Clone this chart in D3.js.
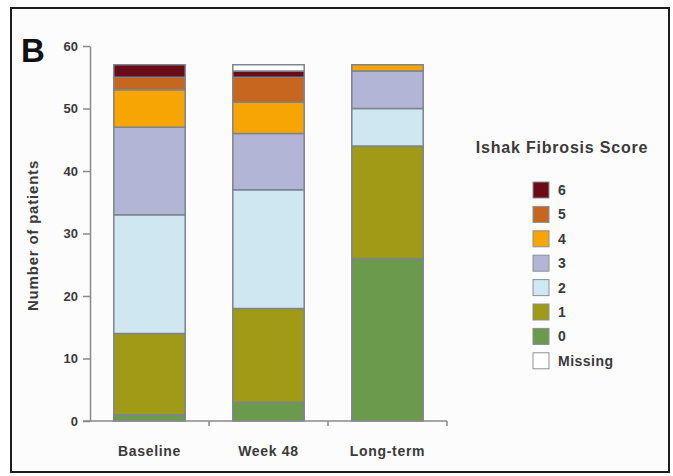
<!DOCTYPE html>
<html>
<head>
<meta charset="utf-8">
<script src="https://cdn.jsdelivr.net/npm/d3@7/dist/d3.min.js"></script>
<style>
  html, body { margin: 0; padding: 0; background: #ffffff; }
  svg { display: block; }
  text { font-family: "Liberation Sans", Arial, Helvetica, sans-serif; }
</style>
</head>
<body>
<svg id="chart" width="673" height="476"></svg>
<script>
// Time points on the x axis
const timepoints = ["Baseline", "Week 48", "Long-term"];

// Patient counts per Ishak fibrosis score, one value per time point
const score0  = [1, 3, 26];
const score1  = [13, 15, 18];
const score2  = [19, 19, 6];
const score3  = [14, 9, 6];
const score4  = [6, 5, 1];
const score5  = [2, 4, 0];
const score6  = [2, 1, 0];
const missing = [0, 1, 0];

// Stack order from bottom to top
const scoreKeys = ["0", "1", "2", "3", "4", "5", "6", "Missing"];
const scoreValues = [score0, score1, score2, score3, score4, score5, score6, missing];

// Legend order (top to bottom)
const legendKeys = ["6", "5", "4", "3", "2", "1", "0", "Missing"];

const yTicks = [0, 10, 20, 30, 40, 50, 60];

const colors = {
  "6": "#6b0b16",
  "5": "#c7671f",
  "4": "#f6a503",
  "3": "#b2b5d6",
  "2": "#cfe7f1",
  "1": "#a09a16",
  "0": "#6b9a4d",
  "Missing": "#ffffff"
};

const rows = timepoints.map((t, i) => {
  const r = { time: t };
  scoreKeys.forEach((k, j) => { r[k] = scoreValues[j][i]; });
  return r;
});

const svg = d3.select("#chart");

// Panel frame
svg.append("rect")
  .attr("x", 11).attr("y", 8)
  .attr("width", 658).attr("height", 464)
  .attr("fill", "#fdfcfc")
  .attr("stroke", "#1e1e1e")
  .attr("stroke-width", 2);

// Panel letter
svg.append("text")
  .attr("x", 21).attr("y", 62)
  .attr("font-size", 33)
  .attr("font-weight", "bold")
  .attr("fill", "#111")
  .text("B");

const plot = { left: 90, right: 447, top: 46, bottom: 421 };

const x = d3.scaleBand()
  .domain(timepoints)
  .range([plot.left, plot.right])
  .paddingInner(0.4)
  .paddingOuter(0.2);

const y = d3.scaleLinear()
  .domain([0, 60])
  .range([plot.bottom, plot.top]);

const stack = d3.stack().keys(scoreKeys);
const series = stack(rows);

// Stacked bars
svg.append("g")
  .selectAll("g")
  .data(series)
  .join("g")
    .attr("fill", d => colors[d.key])
  .selectAll("rect")
  .data(d => d.filter(p => p[1] - p[0] > 0))
  .join("rect")
    .attr("x", d => x(d.data.time))
    .attr("y", d => y(d[1]))
    .attr("width", x.bandwidth())
    .attr("height", d => y(d[0]) - y(d[1]))
    .attr("stroke", "#7c848e")
    .attr("stroke-width", 1.5);

// Y axis
const yAxis = svg.append("g")
  .attr("transform", `translate(${plot.left},0)`)
  .call(d3.axisLeft(y).tickValues(yTicks).tickSize(7).tickPadding(5).tickSizeOuter(0));
yAxis.select(".domain").attr("stroke", "#8a8a8a").attr("stroke-width", 1.5);
yAxis.selectAll(".tick line").attr("stroke", "#8a8a8a").attr("stroke-width", 1.5);
yAxis.selectAll(".tick text")
  .attr("font-size", 13)
  .attr("font-weight", "bold")
  .attr("fill", "#3a3a3a")
  .attr("font-family", "Liberation Sans, Arial, sans-serif");

// X axis with ticks on band boundaries
const xAxisG = svg.append("g").attr("transform", `translate(0,${plot.bottom})`);
xAxisG.append("line")
  .attr("x1", plot.left - 7).attr("x2", plot.right)
  .attr("stroke", "#8a8a8a").attr("stroke-width", 1.5);
const boundaries = [plot.left].concat(timepoints.map(t => x(t) + x.bandwidth() + x.step() * x.paddingInner() / 2));
boundaries[boundaries.length - 1] = plot.right;
xAxisG.selectAll("line.tk")
  .data(boundaries.slice(1))
  .join("line")
  .attr("class", "tk")
  .attr("x1", d => d).attr("x2", d => d)
  .attr("y1", 0).attr("y2", 5)
  .attr("stroke", "#8a8a8a").attr("stroke-width", 1.5);
xAxisG.selectAll("text")
  .data(timepoints)
  .join("text")
  .attr("x", d => x(d) + x.bandwidth() / 2)
  .attr("y", 35)
  .attr("text-anchor", "middle")
  .attr("font-size", 14)
  .attr("letter-spacing", 0.7)
  .attr("font-weight", "bold")
  .attr("fill", "#3a3a3a")
  .text(d => d);

// Y axis title
svg.append("text")
  .attr("transform", `translate(38,${(plot.top + plot.bottom) / 2 + 2}) rotate(-90)`)
  .attr("text-anchor", "middle")
  .attr("font-size", 15)
  .attr("letter-spacing", 0.8)
  .attr("font-weight", "bold")
  .attr("fill", "#3a3a3a")
  .text("Number of patients");

// Legend
const legend = svg.append("g");
legend.append("text")
  .attr("x", 562).attr("y", 153)
  .attr("text-anchor", "middle")
  .attr("font-size", 16)
  .attr("letter-spacing", 0.8)
  .attr("font-weight", "bold")
  .attr("fill", "#3a3a3a")
  .text("Ishak Fibrosis Score");

const item = legend.selectAll("g.item")
  .data(legendKeys)
  .join("g")
  .attr("class", "item")
  .attr("transform", (d, i) => `translate(533,${182 + i * 24.4})`);
item.append("rect")
  .attr("width", 16).attr("height", 16)
  .attr("fill", d => colors[d])
  .attr("stroke", "#8a9098")
  .attr("stroke-width", 1);
item.append("text")
  .attr("x", 25).attr("y", 13)
  .attr("font-size", 14)
  .attr("letter-spacing", 0.5)
  .attr("font-weight", "bold")
  .attr("fill", "#3a3a3a")
  .text(d => d);
</script>
</body>
</html>
